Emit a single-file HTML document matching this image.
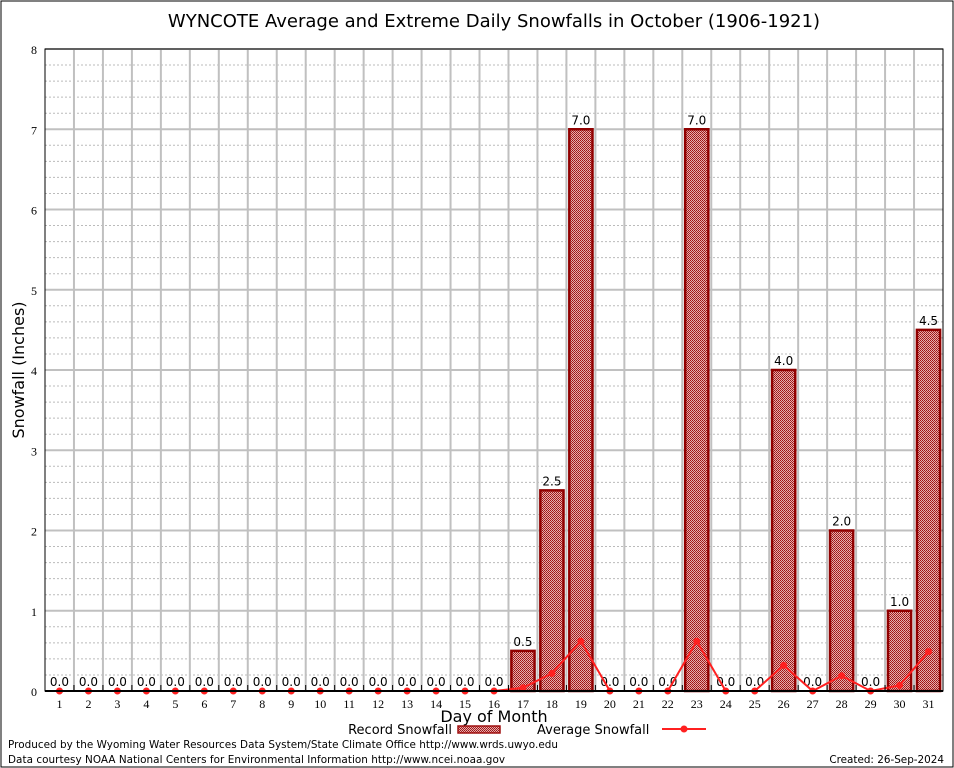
<!DOCTYPE html>
<html><head><meta charset="utf-8"><style>
body{margin:0;background:#fff;}
svg{display:block;font-family:"DejaVu Sans","Liberation Sans",sans-serif;}
</style></head><body>
<svg id="chart" width="954" height="768" viewBox="0 0 954 768">
<defs>
<pattern id="hatch" width="2" height="2" patternUnits="userSpaceOnUse">
<rect width="2" height="2" fill="#e0b0b0"/>
<rect width="1" height="1" fill="#a01010"/><rect x="1" y="1" width="1" height="1" fill="#b02020"/>
</pattern>
</defs>
<rect x="1" y="1" width="952" height="766" fill="#fff" stroke="#000" stroke-width="1"/>
<text x="494" y="27" text-anchor="middle" font-size="18">WYNCOTE Average and Extreme Daily Snowfalls in October (1906-1921)</text>
<g id="grid"></g>
<g id="bars"></g>
<g id="line"></g>
<g id="axes"></g>
<text x="24" y="370" text-anchor="middle" font-size="16" transform="rotate(-90 24 370)">Snowfall (Inches)</text>
<text x="494" y="722" text-anchor="middle" font-size="16">Day of Month</text>
<g>
<text x="452" y="734" text-anchor="end" font-size="13">Record Snowfall</text>
<rect x="458" y="726" width="42" height="7" fill="url(#hatch)" stroke="#a01010" stroke-width="1.5"/>
<text x="537" y="734" font-size="13">Average Snowfall</text>
<line x1="662" y1="729" x2="706" y2="729" stroke="#ff2020" stroke-width="2"/>
<circle cx="684" cy="729" r="3.5" fill="#ff2020"/>
</g>
<text x="8" y="748" font-size="10.4" textLength="550">Produced by the Wyoming Water Resources Data System/State Climate Office http://www.wrds.uwyo.edu</text>
<text x="8" y="763" font-size="10.4" textLength="497">Data courtesy NOAA National Centers for Environmental Information http://www.ncei.noaa.gov</text>
<text x="944" y="763" text-anchor="end" font-size="10.4">Created: 26-Sep-2024</text>
</svg>
<script>
const days=[1,2,3,4,5,6,7,8,9,10,11,12,13,14,15,16,17,18,19,20,21,22,23,24,25,26,27,28,29,30,31];
const records=[0,0,0,0,0,0,0,0,0,0,0,0,0,0,0,0,0.5,2.5,7.0,0,0,0,7.0,0,0,4.0,0,2.0,0,1.0,4.5];
const averages=[0,0,0,0,0,0,0,0,0,0,0,0,0,0,0,0,0.04,0.22,0.62,0,0,0,0.62,0,0,0.32,0,0.19,0,0.07,0.49];
const yTicks=[0,1,2,3,4,5,6,7,8];
const L=45,R=943,T=49,B=691,yMax=8;
const NS="http://www.w3.org/2000/svg";
const step=(R-L)/days.length;
function xScale(i){return L+(i+0.5)*step;}
function yScale(v){return B-(v/yMax)*(B-T);}
function mk(tag,attrs,parent){const e=document.createElementNS(NS,tag);for(const k in attrs)e.setAttribute(k,attrs[k]);parent.appendChild(e);return e;}
const grid=document.getElementById('grid'),bars=document.getElementById('bars'),line=document.getElementById('line'),axes=document.getElementById('axes');
for(let v=0;v<yMax;v+=0.2){const y=yScale(v);const l=mk('line',{x1:L,x2:R,y1:y,y2:y,stroke:'#bbb','stroke-dasharray':'2,2','stroke-width':1},grid);

}
yTicks.forEach(v=>{const y=yScale(v);const l=mk('line',{x1:L,x2:R,y1:y,y2:y,stroke:'#c0c0c0','stroke-width':2},grid);


const t=mk('text',{x:L-8,y:y+5,'text-anchor':'end','font-size':12,'font-family':'Liberation Serif, serif'},axes);t.textContent=v;

});
for(let i=1;i<days.length;i++){const x=L+i*step;const l=mk('line',{x1:x,x2:x,y1:T,y2:B,stroke:'#c0c0c0','stroke-width':2},grid);


const tk=mk('line',{x1:x,x2:x,y1:B,y2:B-6,stroke:'#000'},axes);

}
const bw=step*0.8;
days.forEach((d,i)=>{const x=xScale(i);
if(records[i]>0){const r=mk('rect',{x:x-bw/2,y:yScale(records[i]),width:bw,height:B-yScale(records[i]),fill:'url(#hatch)',stroke:'#900000','stroke-width':2.5},bars);

}
const t=mk('text',{x:x,y:yScale(records[i])-5,'text-anchor':'middle','font-size':12},bars);t.textContent=records[i].toFixed(1);


const xl=mk('text',{x:x,y:B+17,'text-anchor':'middle','font-size':12,'font-family':'Liberation Serif, serif'},axes);xl.textContent=d;

});
const pts=averages.map((v,i)=>xScale(i)+','+yScale(v)).join(' ');
const pl=mk('polyline',{points:pts,fill:'none',stroke:'#ff2020','stroke-width':2},line);


averages.forEach((v,i)=>{const c=mk('circle',{cx:xScale(i),cy:yScale(v),r:3.5,fill:'#ff2020'},line);

});
const fr=mk('rect',{x:L,y:T,width:R-L,height:B-T,fill:'none',stroke:'#000','stroke-width':1},axes);


const xa=mk('line',{x1:L,x2:R,y1:B,y2:B,stroke:'#000','stroke-width':2},axes);


</script>
</body></html>
